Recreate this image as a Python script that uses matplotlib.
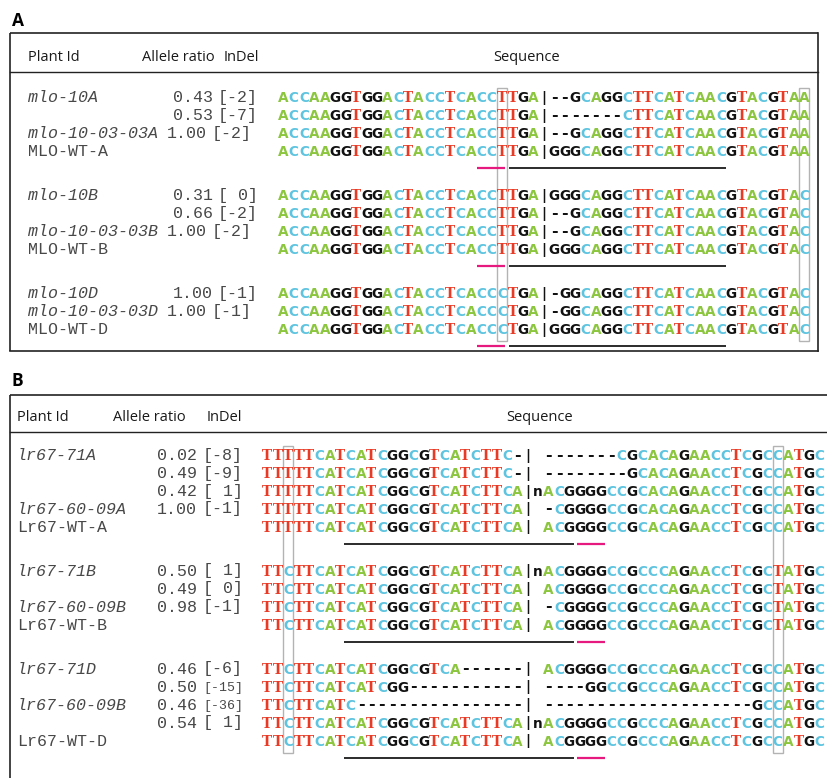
import matplotlib
matplotlib.use("Agg")
import matplotlib.pyplot as plt
from matplotlib.patches import Rectangle

# ------------------------------------------------------------
# Panel A - MLO
# ------------------------------------------------------------
a_names = ["mlo-10A", "", "mlo-10-03-03A", "MLO-WT-A",
           "mlo-10B", "", "mlo-10-03-03B", "MLO-WT-B",
           "mlo-10D", "mlo-10-03-03D", "MLO-WT-D"]
a_ratios = ["0.43", "0.53", "1.00", "",
            "0.31", "0.66", "1.00", "",
            "1.00", "1.00", ""]
a_indels = ["[-2]", "[-7]", "[-2]", "",
            "[ 0]", "[-2]", "[-2]", "",
            "[-1]", "[-1]", ""]
a_groups = [4, 4, 3]
a_seqs = [
    "ACCAAGGTGGACTACCTCACCTTGA|--GCAGGCTTCATCAACGTACGTAA",
    "ACCAAGGTGGACTACCTCACCTTGA|-------CTTCATCAACGTACGTAA",
    "ACCAAGGTGGACTACCTCACCTTGA|--GCAGGCTTCATCAACGTACGTAA",
    "ACCAAGGTGGACTACCTCACCTTGA|GGGCAGGCTTCATCAACGTACGTAA",
    "ACCAAGGTGGACTACCTCACCTTGA|GGGCAGGCTTCATCAACGTACGTAC",
    "ACCAAGGTGGACTACCTCACCTTGA|--GCAGGCTTCATCAACGTACGTAC",
    "ACCAAGGTGGACTACCTCACCTTGA|--GCAGGCTTCATCAACGTACGTAC",
    "ACCAAGGTGGACTACCTCACCTTGA|GGGCAGGCTTCATCAACGTACGTAC",
    "ACCAAGGTGGACTACCTCACCCTGA|-GGCAGGCTTCATCAACGTACGTAC",
    "ACCAAGGTGGACTACCTCACCCTGA|-GGCAGGCTTCATCAACGTACGTAC",
    "ACCAAGGTGGACTACCTCACCCTGA|GGGCAGGCTTCATCAACGTACGTAC",
]
a_boxed_cols = [21, 50]
a_pam_cols = (19.1, 21.8)
a_spacer_cols = (22.2, 43.0)

# ------------------------------------------------------------
# Panel B - Lr67
# ------------------------------------------------------------
b_names = ["lr67-71A", "", "", "lr67-60-09A", "Lr67-WT-A",
           "lr67-71B", "", "lr67-60-09B", "Lr67-WT-B",
           "lr67-71D", "", "lr67-60-09B", "", "Lr67-WT-D"]
b_ratios = ["0.02", "0.49", "0.42", "1.00", "",
            "0.50", "0.49", "0.98", "",
            "0.46", "0.50", "0.46", "0.54", ""]
b_indels = ["[-8]", "[-9]", "[ 1]", "[-1]", "",
            "[ 1]", "[ 0]", "[-1]", "",
            "[-6]", "[-15]", "[-36]", "[ 1]", ""]
b_groups = [5, 4, 5]
b_seqs = [
    "TTTTTCATCATCGGCGTCATCTTC-| -------CGCACAGAACCTCGCCATGC",
    "TTTTTCATCATCGGCGTCATCTTC-| --------GCACAGAACCTCGCCATGC",
    "TTTTTCATCATCGGCGTCATCTTCA|nACGGGGCCGCACAGAACCTCGCCATGC",
    "TTTTTCATCATCGGCGTCATCTTCA| -CGGGGCCGCACAGAACCTCGCCATGC",
    "TTTTTCATCATCGGCGTCATCTTCA| ACGGGGCCGCACAGAACCTCGCCATGC",
    "TTCTTCATCATCGGCGTCATCTTCA|nACGGGGCCGCCCAGAACCTCGCTATGC",
    "TTCTTCATCATCGGCGTCATCTTCA| ACGGGGCCGCCCAGAACCTCGCTATGC",
    "TTCTTCATCATCGGCGTCATCTTCA| -CGGGGCCGCCCAGAACCTCGCTATGC",
    "TTCTTCATCATCGGCGTCATCTTCA| ACGGGGCCGCCCAGAACCTCGCTATGC",
    "TTCTTCATCATCGGCGTCA------| ACGGGGCCGCCCAGAACCTCGCCATGC",
    "TTCTTCATCATCGG-----------| ----GGCCGCCCAGAACCTCGCCATGC",
    "TTCTTCATC----------------| --------------------GCCATGC",
    "TTCTTCATCATCGGCGTCATCTTCA|nACGGGGCCGCCCAGAACCTCGCCATGC",
    "TTCTTCATCATCGGCGTCATCTTCA| ACGGGGCCGCCCAGAACCTCGCCATGC",
]
b_boxed_cols = [2, 49]
b_pam_cols = (30.2, 32.9)
b_spacer_cols = (7.9, 29.9)

headers = ["Plant Id", "Allele ratio", "InDel", "Sequence"]

# ------------------------------------------------------------
# estilo
# ------------------------------------------------------------
BASE_COLORS = {"A": "#8cc63f", "C": "#5ec4df", "G": "#111111", "T": "#e83a24"}
PITCH = 18       # distancia entre linhas
GROUP_GAP = 26   # espaco extra entre grupos
CW = 10.42       # largura de uma coluna da sequencia
FRAME = "#222222"
MONO = "Liberation Mono"
SANS = "Open Sans"
TXT = "#484848"


def row_positions(first_y, groups):
    ys = []
    y = first_y
    for n in groups:
        for _ in range(n):
            ys.append(y)
            y += PITCH
        y += GROUP_GAP
    return ys


def draw_panel(ax, lay, names, ratios, indels, seqs, groups, boxed, pam, spacer):
    # titulo do painel
    ax.text(lay["x0"] + 2, lay["label_y"], lay["label"], fontsize=12.5,
            fontweight="bold", family=SANS, va="center", ha="left")

    # moldura
    x0, x1, top, bot = lay["x0"], lay["x1"], lay["top"], lay["bottom"]
    ax.plot([x0, x1], [top, top], color=FRAME, lw=1.2, solid_capstyle="butt")
    ax.plot([x0, x0], [top, bot], color=FRAME, lw=1.2, solid_capstyle="butt")
    if lay["closed"]:
        ax.plot([x1, x1], [top, bot], color=FRAME, lw=1.2)
        ax.plot([x0, x1], [bot, bot], color=FRAME, lw=1.2)
    ax.plot([x0, x1], [lay["line_y"], lay["line_y"]], color=FRAME, lw=1.0)

    # cabecalho
    hy = lay["header_y"]
    for txt, hx in zip(headers[:3], lay["head_x"]):
        ax.text(hx, hy, txt, fontsize=10.5, family=SANS, va="center", ha="left", color="#1a1a1a")
    ax.text(lay["seq_head_x"], hy, headers[3], fontsize=10.5, family=SANS,
            va="center", ha="center", color="#1a1a1a")

    ys = row_positions(lay["first_y"], groups)
    xs = lay["x_seq"]

    for y, name, ratio, indel, seq in zip(ys, names, ratios, indels, seqs):
        base = y + 4.5
        style = "normal" if "WT" in name else "italic"
        ax.text(lay["x_name"], base, name, fontsize=12, family=MONO, style=style,
                va="baseline", ha="left", color=TXT)
        # nomes longos empurram as colunas (so no painel A)
        shift = lay["long_shift"] if len(name) > 10 else 0
        ax.text(lay["x_ratio"] + shift, base, ratio, fontsize=12, family=MONO,
                va="baseline", ha="left", color=TXT)
        ax.text(lay["x_indel"] + shift, base, indel, fontsize=12 if len(indel) <= 4 else 9.5,
                family=MONO, va="baseline", ha="left", color=TXT)

        for i, ch in enumerate(seq):
            if ch == " ":
                continue
            cx = xs + (i + 0.5) * CW
            fam = "DejaVu Serif" if ch == "T" else "DejaVu Sans"
            size = 9.8
            if ch == "-":
                size = 11.5
            ax.text(cx, base, ch, fontsize=size, fontweight="bold", family=fam,
                    va="baseline", ha="center", color=BASE_COLORS.get(ch, "#111111"))

    # sublinhados nas linhas do WT
    start = 0
    for n in groups:
        wt_y = ys[start + n - 1] + 17
        ax.plot([xs + spacer[0] * CW, xs + spacer[1] * CW], [wt_y, wt_y],
                color="#1a1a1a", lw=1.3, solid_capstyle="butt")
        ax.plot([xs + pam[0] * CW, xs + pam[1] * CW], [wt_y, wt_y],
                color="#e6197f", lw=1.6, solid_capstyle="butt")
        start += n

    # caixas cinzas nas colunas marcadas
    y_top = ys[0] - 9
    y_bot = ys[-1] + 12
    for c in boxed:
        ax.add_patch(Rectangle((xs + c * CW, y_top), CW, y_bot - y_top,
                               fill=False, edgecolor="#b3b3b3", lw=1.0))


fig = plt.figure(figsize=(8.28, 7.78), dpi=100)
ax = fig.add_axes([0, 0, 1, 1])
ax.set_xlim(0, 828)
ax.set_ylim(778, 0)
ax.axis("off")

lay_a = dict(label="A", label_y=21, x0=10, x1=818, top=33, bottom=351, closed=True,
             header_y=57, line_y=72, head_x=[28, 142, 224], seq_head_x=527,
             first_y=97, x_name=28, x_ratio=173, x_indel=218, long_shift=-6, x_seq=278)
lay_b = dict(label="B", label_y=381, x0=10, x1=830, top=395, bottom=780, closed=False,
             header_y=417, line_y=432, head_x=[17, 113, 207], seq_head_x=540,
             first_y=455, x_name=17, x_ratio=157, x_indel=203, long_shift=0, x_seq=262)

draw_panel(ax, lay_a, a_names, a_ratios, a_indels, a_seqs, a_groups,
           a_boxed_cols, a_pam_cols, a_spacer_cols)
draw_panel(ax, lay_b, b_names, b_ratios, b_indels, b_seqs, b_groups,
           b_boxed_cols, b_pam_cols, b_spacer_cols)

fig.savefig("out.png", dpi=100)
plt.close(fig)
